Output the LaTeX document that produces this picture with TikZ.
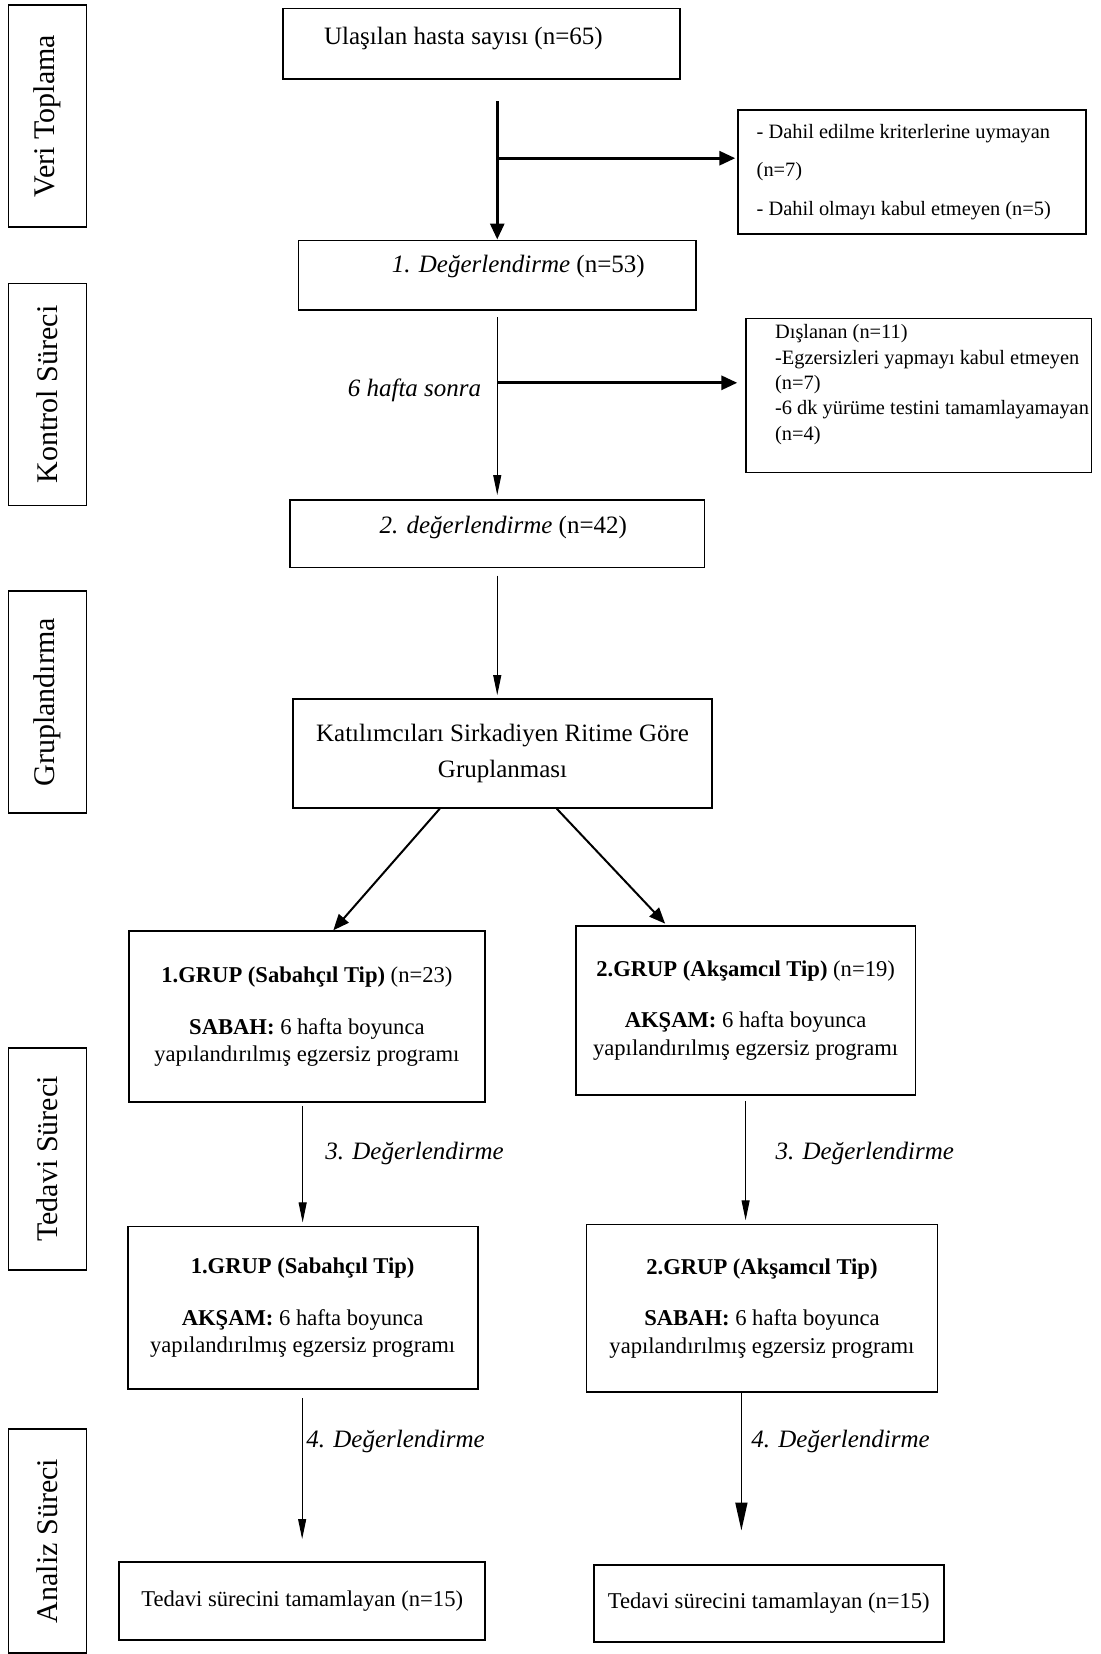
\documentclass[tikz,border=0pt]{standalone}
\usepackage{fontspec}
\setmainfont{Liberation Serif}
\usetikzlibrary{arrows.meta}

\begin{document}
\begin{tikzpicture}[x=0.5pt,y=-0.5pt,
        kutu/.style={draw,line width=0.9pt,inner sep=0pt},
        yan/.style={draw,line width=0.9pt,rotate=90,minimum width=111pt,minimum height=39pt,inner sep=0pt,font=\fontsize{15}{18}\selectfont},
        kalin/.style={line width=1.5pt,-{Triangle[length=8pt,width=7pt]}},
        ince/.style={line width=0.5pt,-{Triangle[length=10pt,width=4pt]}},
        capraz/.style={line width=1pt,-{Triangle[length=8pt,width=6.5pt]}},
        buyuk/.style={font=\fontsize{12.5}{18.45}\selectfont},
        orta/.style={font=\fontsize{11.3}{13.7}\selectfont},
        kucuk/.style={font=\fontsize{10.2}{12.65}\selectfont},
        etiket/.style={font=\fontsize{12.5}{15}\selectfont\itshape}]
    \useasboundingbox (0,0) rectangle (1101,1654);

    \node[yan] (veri) at (47.5,116) {Veri Toplama};
    \node[yan] (kontrol) at (47.5,394.4) {Kontrol Süreci};
    \node[yan] (grup) at (47.5,702.3) {Gruplandırma};
    \node[yan] (tedavi) at (47.5,1159) {Tedavi Süreci};
    \node[yan,minimum width=112pt] (analiz) at (47.5,1541) {Analiz Süreci};

    \node[kutu,buyuk,minimum width=198.8pt,minimum height=35.35pt,text depth=8pt] (b1) at (481.4,43.75) {Ulaşılan hasta sayısı (n=65)\kern18pt};
    \node[kutu,buyuk,minimum width=198.75pt,minimum height=34.8pt,text depth=11pt] (b2) at (497.25,275.2) {\hspace{21pt}\textit{1. Değerlendirme} (n=53)};
    \node[kutu,buyuk,minimum width=207.25pt,minimum height=33.75pt,text depth=8.7pt] (b3) at (497.25,533.65) {\hspace{6pt}\textit{2. değerlendirme} (n=42)};
    \node[kutu,buyuk,align=center,minimum width=209.35pt,minimum height=54.3pt] (b4) at (502.55,753.5) {Katılımcıları Sirkadiyen Ritime Göre\\Gruplanması};

    \node[kutu,minimum width=174pt,minimum height=62.2pt] (x1) at (912.2,171.9) {};
    \node[kucuk,align=left,anchor=west,inner sep=0pt] (x1t) at ([xshift=9.5pt]x1.west) {- Dahil edilme kriterlerine uymayan\\[6.6pt](n=7)\\[6.6pt]- Dahil olmayı kabul etmeyen (n=5)};
    \node[kutu,minimum width=172.95pt,minimum height=77pt] (x2) at (918.55,395.5) {};
    \node[kucuk,align=left,anchor=west,inner sep=0pt] (x2t) at ([xshift=15pt,yshift=5.5pt]x2.west) {Dışlanan (n=11)\\-Egzersizleri yapmayı kabul etmeyen\\(n=7)\\-6 dk yürüme testini tamamlayamayan\\(n=4)};

    \node[kutu,orta,align=center,minimum width=178.2pt,minimum height=85.4pt] (b5l) at (306.9,1016.6) {\textbf{1.GRUP (Sabahçıl Tip)} (n=23)\\[12.15pt]\textbf{SABAH:} 6 hafta boyunca\\yapılandırılmış egzersiz programı};
    \node[kutu,orta,align=center,minimum width=169.8pt,minimum height=84.35pt] (b5r) at (745.6,1010.35) {\textbf{2.GRUP (Akşamcıl Tip)} (n=19)\\[12.15pt]\textbf{AKŞAM:} 6 hafta boyunca\\yapılandırılmış egzersiz programı};
    \node[kutu,orta,align=center,minimum width=175.05pt,minimum height=81.2pt] (b6l) at (302.65,1307.7) {\textbf{1.GRUP (Sabahçıl Tip)}\\[12.15pt]\textbf{AKŞAM:} 6 hafta boyunca\\yapılandırılmış egzersiz programı};
    \node[kutu,orta,align=center,minimum width=175.55pt,minimum height=83.85pt] (b6r) at (761.95,1308.25) {\textbf{2.GRUP (Akşamcıl Tip)}\\[12.15pt]\textbf{SABAH:} 6 hafta boyunca\\yapılandırılmış egzersiz programı};
    \node[kutu,orta,minimum width=182.95pt,minimum height=39.05pt] (b7l) at (302.15,1600.95) {Tedavi sürecini tamamlayan (n=15)};
    \node[kutu,orta,minimum width=175.1pt,minimum height=38.5pt] (b7r) at (768.8,1603.5) {Tedavi sürecini tamamlayan (n=15)};

    \draw[kalin,shorten <=10.5pt] (b1.south -| b2.north) -- (b2.north);
    \coordinate (j1) at (497.25,158.2);
    \draw[kalin,shorten >=1pt] (j1) -- (j1 -| x1.west);
    \draw[ince,shorten <=3.2pt,shorten >=2pt] (b2.south) -- (b3.north);
    \coordinate (j2) at (497.8,382.8);
    \draw[kalin,shorten >=3.7pt] (j2) -- (j2 -| x2.west);
    \node[etiket] (hafta) at (414.5,390.2) {6 hafta sonra};
    \draw[ince,shorten <=3.7pt,shorten >=1.6pt] (b3.south) -- (b3.south |- b4.north);

    \draw[capraz] ([xshift=-31.4pt]b4.south) -- ([xshift=13.2pt]b5l.north);
    \draw[capraz,shorten >=1pt] ([xshift=27.1pt]b4.south) -- ([xshift=-39.55pt]b5r.north);

    \draw[ince,shorten <=1.5pt,shorten >=1.6pt] (b5l.south -| b6l.north) -- (b6l.north);
    \node[etiket] (d3l) at (414.5,1153.7) {3. Değerlendirme};
    \draw[ince,shorten <=2.6pt,shorten >=1.6pt] (b5r.south) -- (b5r.south |- b6r.north);
    \node[etiket] (d3r) at (864.8,1153.7) {3. Değerlendirme};

    \draw[ince,shorten <=4.2pt,shorten >=11pt] (b6l.south -| b7l.north) -- (b7l.north);
    \node[etiket] (d4l) at (395.5,1441.6) {4. Değerlendirme};
    \coordinate (a4r) at (741.4,1392.1);
    \draw[line width=0.8pt,-{Triangle[length=14pt,width=6pt]},shorten >=16.8pt] (a4r) -- (a4r |- b7r.north);
    \node[etiket] (d4r) at (840.5,1441.6) {4. Değerlendirme};
\end{tikzpicture}
\end{document}
